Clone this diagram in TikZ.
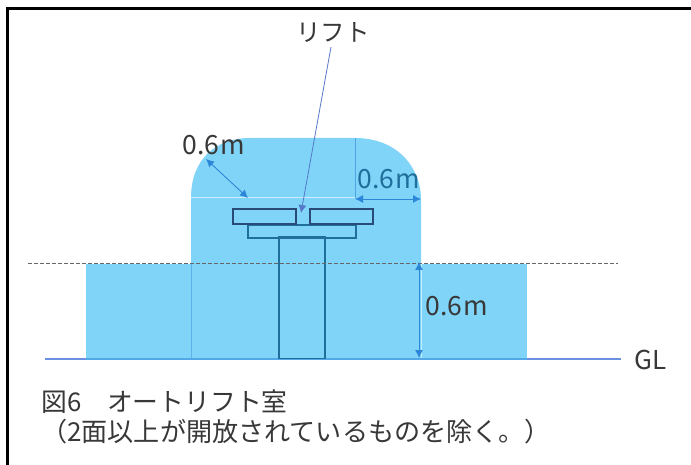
\documentclass[tikz,border=0pt]{standalone}
\usepackage{fontspec}
\setmainfont{Noto Sans CJK JP}
\usetikzlibrary{arrows.meta}
\definecolor{skyfill}{HTML}{80D4F8}
\definecolor{darkbl}{HTML}{1F6E9C}
\definecolor{navybl}{HTML}{2A4A78}
\definecolor{dimbl}{HTML}{2E86D8}
\definecolor{leadbl}{HTML}{5578C8}
\definecolor{glbl}{HTML}{6C90E0}
\definecolor{labtxt}{HTML}{383838}
\tikzset{
  px/.style={x=1pt,y=-1pt},
  part/.style={draw=darkbl,line width=1.8pt,inner sep=0pt,anchor=north west},
  topbox/.style={draw=navybl,line width=1.8pt,inner sep=0pt,anchor=north west,minimum width=63pt,minimum height=15pt},
  dimline/.style={draw=dimbl,line width=0.9pt,{Latex[length=8pt,width=8pt]}-{Latex[length=8pt,width=8pt]}},
  lab/.style={text=labtxt,font=\fontsize{26.5}{30}\selectfont,inner sep=0pt,anchor=center},
  captxt/.style={text=labtxt,font=\fontsize{25.8}{30}\selectfont,inner sep=0pt,anchor=west}
}
\begin{document}
\begin{tikzpicture}[px]
\useasboundingbox (0,0) rectangle (691,465);
\fill[white] (0,0) rectangle (691,465);
% frame
\draw[black,line width=2.4pt] (7.5,465) -- (7.5,8.5) -- (691,8.5);
% body
\fill[skyfill] (86,264) rectangle (527,359);
\fill[skyfill] (191,359) -- (191,198) .. controls (191,160) and (215,138) .. (250,138) -- (355,138) .. controls (397,138) and (421,167) .. (421,200) -- (421,359) -- cycle;
\draw[white!60!skyfill,line width=1pt] (191,198) -- (355,198);
\draw[white!50!skyfill,line width=1pt] (421,264) -- (421,359);
\draw[dimbl!45!skyfill,line width=0.8pt] (191,264) -- (191,359);
\draw[dimbl!60!skyfill,line width=0.7pt] (355,138) -- (355,198);
% GL line
\coordinate (glL) at (45,359); \coordinate (glR) at (621,359);
\draw[glbl,line width=1.1pt] (glL) -- (glR);
\draw[dimbl!55!skyfill,line width=1.2pt] (86,359) -- (527,359);
% lift
\node[part,minimum width=46pt,minimum height=121pt] (mast) at (278.3,236.5) {};
\node[part,minimum width=108pt,minimum height=13pt] (deck) at (247.3,224) {};
\node[topbox] (plateL) at (232.3,208.5) {};
\node[topbox] (plateR) at (309.3,208.5) {};
% dashed level line
\coordinate (dashL) at (28,264); \coordinate (dashR) at (618,264);
\draw[black!60,line width=1pt,dash pattern=on 3.5pt off 2.5pt] (dashL) -- (dashR);
% labels
\node[lab,font=\fontsize{24.5}{28}\selectfont] (lift) at (333,33) {リフト};
\coordinate (liftTip) at (301,213);
\draw[leadbl,line width=0.8pt,-{Latex[length=8pt,width=8pt]}] (331,47) -- (liftTip);
\node[lab] (d1) at (214,145) {0.6\kern1pt m};
\node[lab,text=darkbl] (d2) at (389,179) {0.6\kern1pt m};
\node[lab] (d3) at (457,306) {0.6\kern1pt m};
\node[lab,font=\fontsize{26}{30}\selectfont] (gl) at (651,360) {GL};
\coordinate (a1) at (206,159); \coordinate (a2) at (248,198);
\draw[dimline] (a1) -- (a2);
\coordinate (b1) at (355,199); \coordinate (b2) at (421,199);
\draw[dimline] (b1) -- (b2);
\coordinate (c1) at (419,262); \coordinate (c2) at (419,358);
\draw[dimline] (c1) -- (c2);
\node[captxt] (cap1) at (41,402) {図6　オートリフト室};
\node[captxt,font=\fontsize{26.1}{30}\selectfont] (cap2) at (41,432) {（2面以上が開放されているものを除く。）};
\end{tikzpicture}
\end{document}
